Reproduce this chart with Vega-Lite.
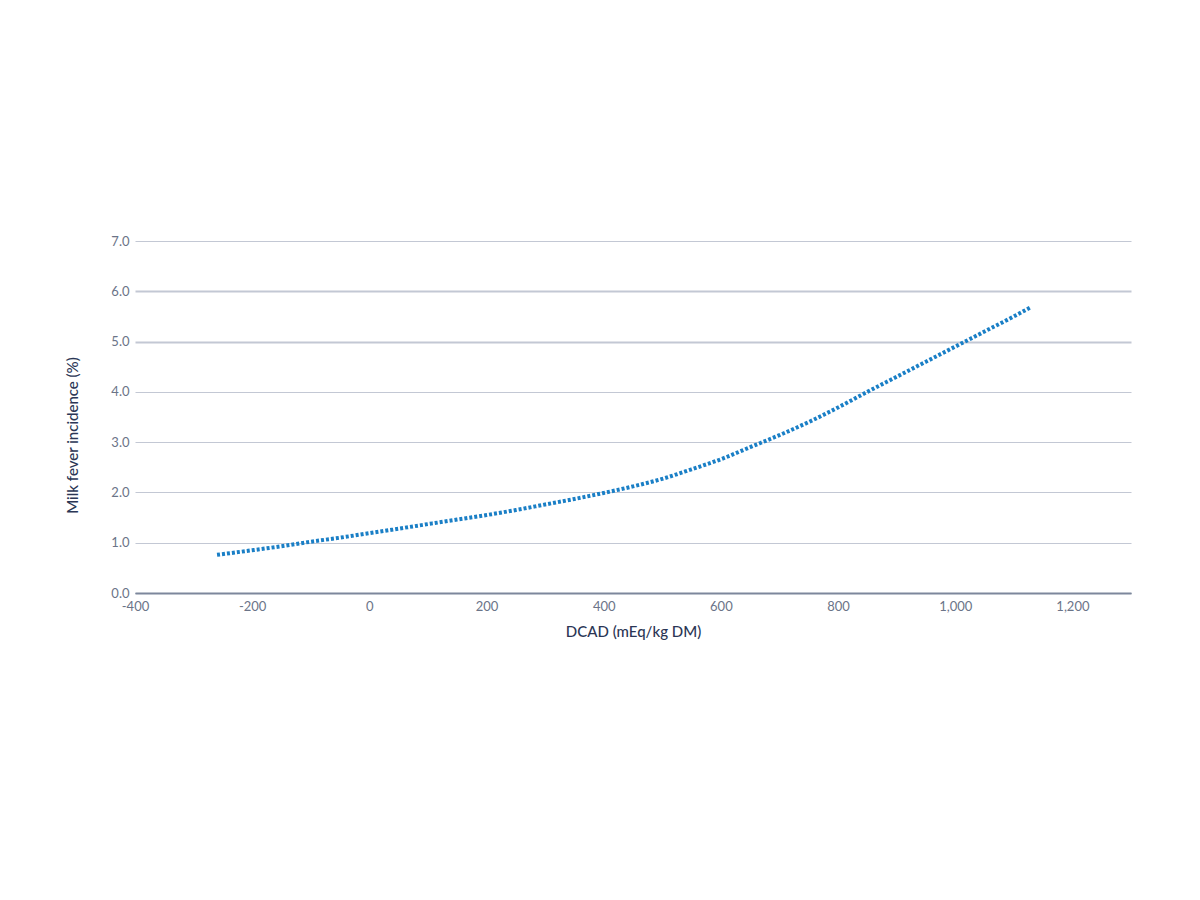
{
  "$schema": "https://vega.github.io/schema/vega-lite/v6.json",
  "autosize": "none",
  "width": 996,
  "height": 352,
  "padding": {"left": 135, "top": 241, "right": 69, "bottom": 307},
  "background": "white",
  "config": {"view": {"stroke": null}, "font": "Lato"},
  "data": {"values": [
    {"dcad": -260, "mf": 0.76},
    {"dcad": -200, "mf": 0.85},
    {"dcad": -150, "mf": 0.93},
    {"dcad": -100, "mf": 1.02},
    {"dcad": -50, "mf": 1.10},
    {"dcad": 0, "mf": 1.19},
    {"dcad": 50, "mf": 1.28},
    {"dcad": 100, "mf": 1.37},
    {"dcad": 150, "mf": 1.46},
    {"dcad": 200, "mf": 1.55},
    {"dcad": 250, "mf": 1.65},
    {"dcad": 300, "mf": 1.76},
    {"dcad": 350, "mf": 1.87},
    {"dcad": 400, "mf": 1.99},
    {"dcad": 450, "mf": 2.12},
    {"dcad": 500, "mf": 2.27},
    {"dcad": 550, "mf": 2.46},
    {"dcad": 600, "mf": 2.66},
    {"dcad": 650, "mf": 2.90},
    {"dcad": 700, "mf": 3.14},
    {"dcad": 750, "mf": 3.40},
    {"dcad": 800, "mf": 3.69},
    {"dcad": 850, "mf": 4.00},
    {"dcad": 900, "mf": 4.30},
    {"dcad": 950, "mf": 4.60},
    {"dcad": 1000, "mf": 4.90},
    {"dcad": 1050, "mf": 5.20},
    {"dcad": 1100, "mf": 5.50},
    {"dcad": 1130, "mf": 5.69}
  ]},
  "mark": {"type": "line", "color": "#1a7fc6", "strokeWidth": 4, "strokeDash": [3, 2], "interpolate": "monotone"},
  "encoding": {
    "x": {
      "field": "dcad", "type": "quantitative",
      "scale": {"domain": [-400, 1300], "nice": false, "zero": false},
      "axis": {
        "values": [-400, -200, 0, 200, 400, 600, 800, 1000, 1200],
        "format": ",d",
        "labelExpr": "replace(datum.label, '\u2212', '-')",
        "labelFlush": false,
        "title": "DCAD (mEq/kg DM)",
        "grid": false,
        "ticks": false,
        "domain": true,
        "domainColor": "#7d879c",
        "domainWidth": 2,
        "labelColor": "#6b7488",
        "labelFontSize": 13,
        "labelPadding": 7,
        "titleColor": "#2b3655",
        "titleFontSize": 15,
        "titleFontWeight": 500,
        "titlePadding": 11
      }
    },
    "y": {
      "field": "mf", "type": "quantitative",
      "scale": {"domain": [0, 7], "nice": false},
      "axis": {
        "values": [0, 1, 2, 3, 4, 5, 6, 7],
        "format": ".1f",
        "title": "Milk fever incidence (%)",
        "titleY": 194,
        "grid": true,
        "gridColor": {"condition": {"test": "datum.value == 0", "value": "#7d879c"}, "value": "#c3c8d4"},
        "gridWidth": {"condition": {"test": "datum.value == 5 || datum.value == 6", "value": 2}, "value": 1.2},
        "ticks": false,
        "domain": false,
        "labelColor": "#6b7488",
        "labelFontSize": 13,
        "labelPadding": 6,
        "titleColor": "#2b3655",
        "titleFontSize": 15,
        "titleFontWeight": 500,
        "titlePadding": 30
      }
    }
  }
}
